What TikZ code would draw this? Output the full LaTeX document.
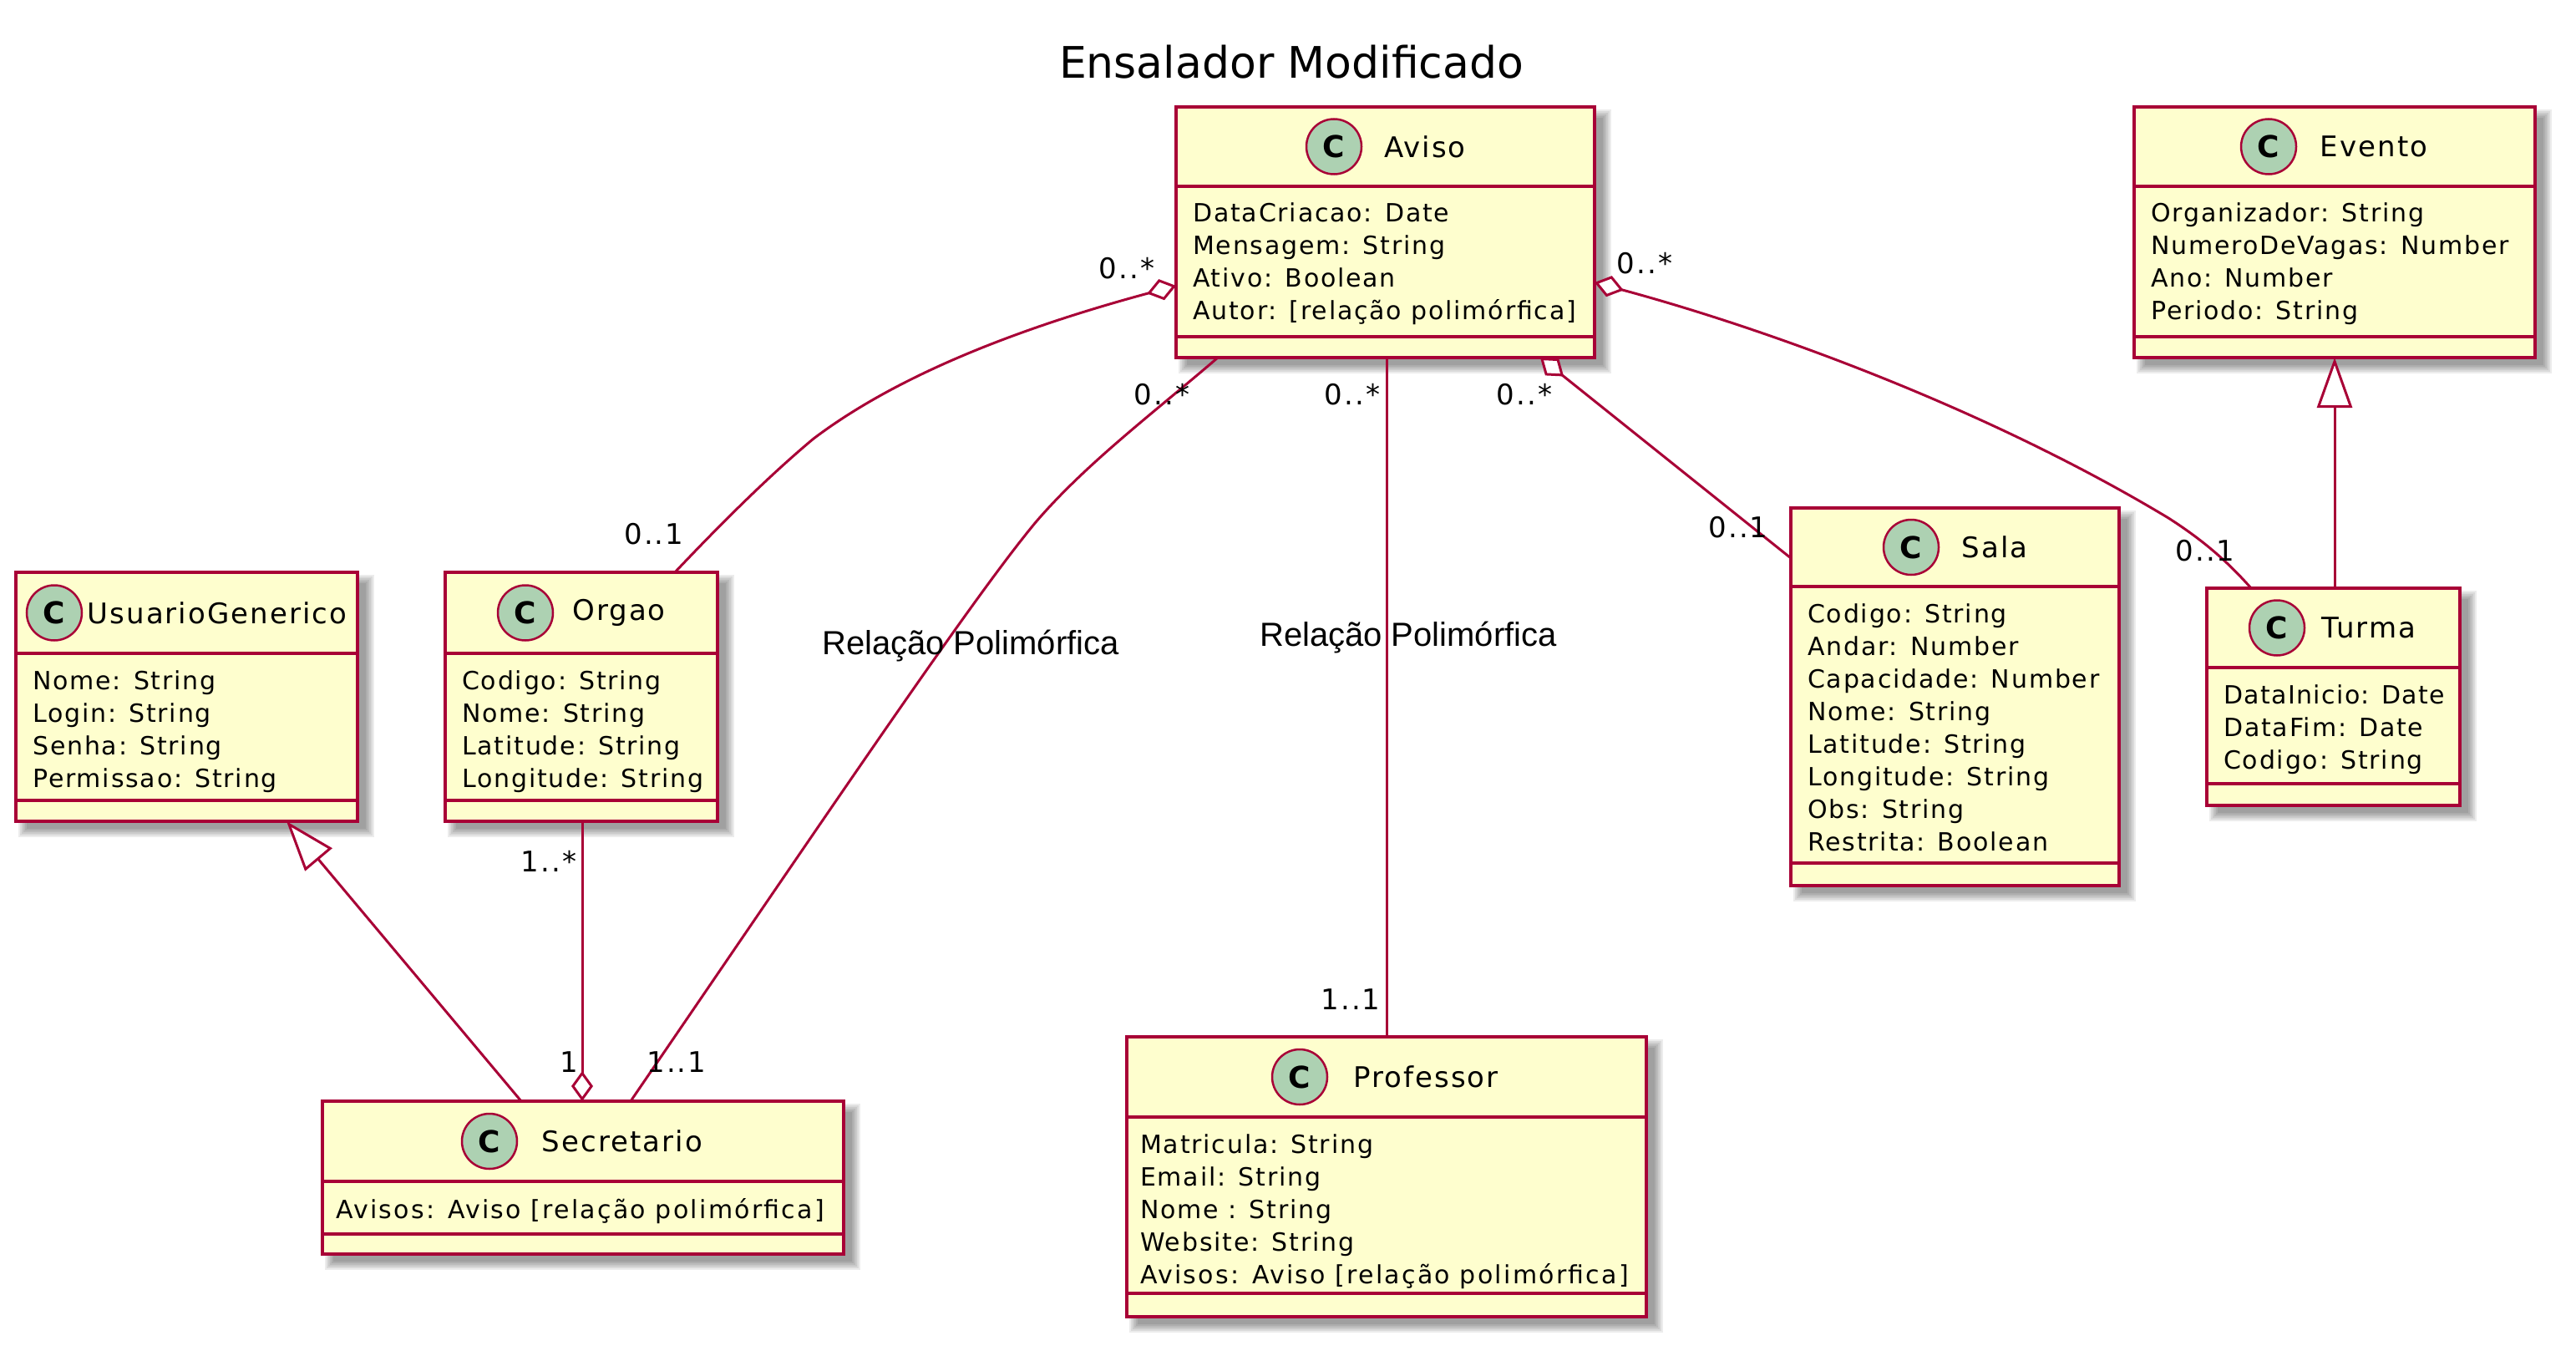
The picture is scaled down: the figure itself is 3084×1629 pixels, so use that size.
\documentclass[tikz,border=0pt]{standalone}
\usepackage{fontspec}
\setmainfont{DejaVu Sans}
\newfontfamily\relfont{Liberation Sans}
\newfontfamily\widefont[LetterSpace=6]{DejaVu Sans}
\newfontfamily\widerfont[LetterSpace=7.5]{DejaVu Sans}
\newfontfamily\narrowfont[LetterSpace=4.5]{DejaVu Sans}
\usetikzlibrary{calc,arrows.meta}
\definecolor{umlline}{HTML}{A80036}
\definecolor{umlfill}{HTML}{FEFECE}
\definecolor{umlcirc}{HTML}{ADD1B2}
\tikzset{
  umlbox/.style={draw=umlline,fill=umlfill,line width=4pt,anchor=north west,inner sep=0pt,outer sep=0pt},
  umlsep/.style={draw=umlline,line width=4pt},
  circ/.style={circle,draw=umlline,fill=umlcirc,line width=2.5pt,minimum size=66pt,inner sep=0pt,font=\fontsize{36}{36}\selectfont\bfseries},
  cname/.style={font=\fontsize{34}{34}\widefont,inner sep=0pt,anchor=center},
  attrs/.style={font=\fontsize{30}{39}\widefont,align=left,inner sep=0pt,anchor=north west},
  mult/.style={font=\fontsize{34}{34}\widefont,inner sep=0pt,anchor=center},
  rellabel/.style={font=\fontsize{40}{40}\relfont,inner sep=0pt,anchor=center},
  conn/.style={draw=umlline,line width=3pt},
  aggr/.tip={Diamond[fill=white,length=36pt,width=26pt]},
  gener/.tip={Triangle[fill=white,length=60pt,width=42pt]},
}
\newcommand{\umlclass}[9]{%
  % #1 name #2 x0 #3 y0 #4 x1 #5 y1 #6 sep1 #7 sep2 #8 circle x #9 title x
  \foreach \i in {0,2,4,6,8,10}{
    \fill[black,opacity=0.075] (#2+3+\i,#3+3+\i) rectangle (#4+20-\i,#5+19-\i);
  }
  \node[umlbox,minimum width=#4pt-#2pt,minimum height=#5pt-#3pt] (#1) at (#2,#3) {};
  \draw[umlsep] (#2,#6) -- (#4,#6);
  \draw[umlsep] (#2,#7) -- (#4,#7);
  \node[circ] (#1-circle) at (#8,{(#3+#6)/2}) {C};
  \node[cname] (#1-title) at (#9,{(#3+#6)/2}) {\umltitle};
  \node[attrs] (#1-attrs) at (#2+\umlpad,#6+20) {\umlattrs};
}
\newcommand{\umltitle}{}
\newcommand{\umlattrs}{}
\newcommand{\umlpad}{20}
\begin{document}
\begin{tikzpicture}[x=1pt,y=-1pt]
\useasboundingbox (0,0) rectangle (3084,1629);
\node[font=\fontsize{52}{52}\selectfont,inner sep=0pt] (title) at (1546,74) {Ensalador Modificado};

\renewcommand{\umltitle}{Aviso}\renewcommand{\umlattrs}{DataCriacao: Date\\Mensagem: String\\Ativo: Boolean\\Autor: [relação polimórfica]}
\umlclass{aviso}{1408}{128}{1909}{428}{223}{403}{1597}{1706}
\renewcommand{\umltitle}{Evento}\renewcommand{\umlattrs}{Organizador: String\\NumeroDeVagas: Number\\Ano: Number\\Periodo: String}
\umlclass{evento}{2555}{128}{3035}{428}{223}{403}{2716}{2842}
\renewcommand{\umltitle}{Sala}\renewcommand{\umlattrs}{Codigo: String\\Andar: Number\\Capacidade: Number\\Nome: String\\Latitude: String\\Longitude: String\\Obs: String\\Restrita: Boolean}
\umlclass{sala}{2144}{608}{2537}{1060}{702}{1033}{2288}{2388}
\renewcommand{\umltitle}{Turma}\renewcommand{\umlattrs}{{\narrowfont DataInicio: Date}\\DataFim: Date\\Codigo: String}
\umlclass{turma}{2642}{704}{2945}{964}{799}{938}{2726}{2836}
\renewcommand{\umltitle}{Orgao}\renewcommand{\umlattrs}{Codigo: String\\Nome: String\\Latitude: String\\Longitude: String}
\umlclass{orgao}{533}{685}{859}{983}{782}{958}{629}{741}
\renewcommand{\umltitle}{UsuarioGenerico}\renewcommand{\umlattrs}{Nome: String\\Login: String\\Senha: String\\Permissao: String}
\umlclass{usuario}{19}{685}{428}{983}{782}{958}{65}{260}
\renewcommand{\umlpad}{16}
\renewcommand{\umltitle}{Secretario}\renewcommand{\umlattrs}{{\widerfont Avisos: Aviso [relação polimórfica]}}
\umlclass{secretario}{386}{1318}{1010}{1501}{1414}{1477}{586}{745}
\renewcommand{\umltitle}{Professor}\renewcommand{\umlattrs}{Matricula: String\\Email: String\\Nome : String\\Website: String\\{\widerfont Avisos: Aviso [relação polimórfica]}}
\umlclass{professor}{1349}{1241}{1971}{1576}{1337}{1548}{1556}{1707}

% connectors
\draw[conn,aggr-] ($(aviso.north west)+(0,214)$) .. controls (1230,390) and (1080,445) .. (974,525) .. controls (920,570) and (860,630) .. ($(orgao.north west)+(275,0)$);
\draw[conn] ($(aviso.south west)+(50,0)$) .. controls (1380,495) and (1300,555) .. (1240,625) .. controls (1165,715) and (1000,960) .. ($(secretario.north west)+(369,0)$);
\draw[conn] ($(aviso.south west)+(252,0)$) -- ($(professor.north west)+(311,0)$);
\draw[conn,aggr-] ($(aviso.south west)+(436,0)$) -- ($(sala.north west)+(0,60)$);
\draw[conn,aggr-] ($(aviso.north east)+(0,210)$) .. controls (2120,395) and (2380,490) .. (2596,620) .. controls (2635,645) and (2665,670) .. ($(turma.north west)+(53,0)$);
\draw[conn,gener-] ($(evento.south west)+(240,0)$) -- ($(turma.north west)+(153,0)$);
\draw[conn,gener-] ($(usuario.south west)+(324,0)$) -- ($(secretario.north west)+(238,0)$);
\draw[conn,-aggr] ($(orgao.south west)+(164,0)$) -- ($(secretario.north west)+(311,0)$);

% labels
\node[mult] (m1) at (1349,321) {0..*};
\node[mult] (m2) at (1969,315) {0..*};
\node[mult] (m3) at (1391,472) {0..*};
\node[mult] (m4) at (1619,472) {0..*};
\node[mult] (m5) at (1825,472) {0..*};
\node[mult] (m6) at (783,639) {0..1};
\node[mult] (m7) at (2081,631) {0..1};
\node[mult] (m8) at (2640,659) {0..1};
\node[mult] (m9) at (657,1031) {1..*};
\node[mult] (m10) at (681,1271) {1};
\node[mult] (m11) at (810,1271) {1..1};
\node[mult] (m12) at (1617,1196) {1..1};
\node[rellabel] (r1) at (1162,773) {Relação Polimórfica};
\node[rellabel] (r2) at (1686,763) {Relação Polimórfica};
\end{tikzpicture}
\end{document}
